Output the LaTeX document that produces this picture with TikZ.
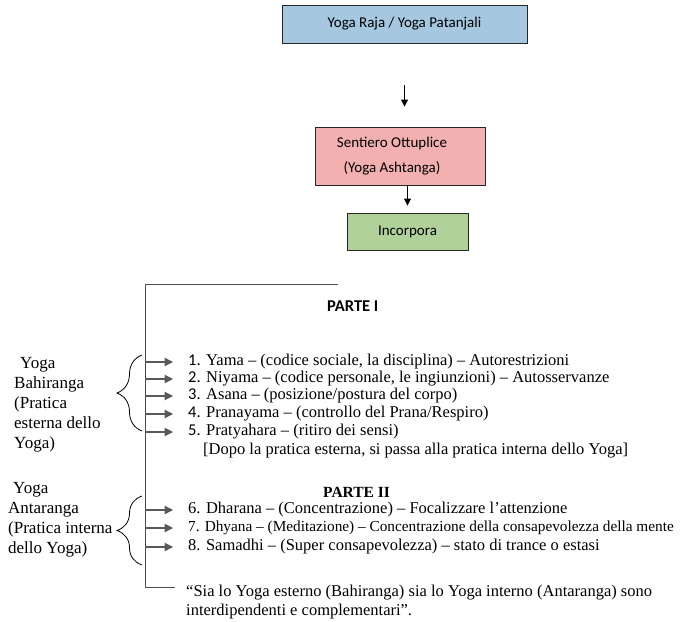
\documentclass[tikz,border=0pt]{standalone}
\usepackage{fontspec}
\setmainfont{Liberation Serif}
\newfontfamily\carlito{Carlito}
\usetikzlibrary{arrows.meta,decorations.pathreplacing}

\definecolor{rajablue}{RGB}{165,200,224}
\definecolor{sentpink}{RGB}{242,177,176}
\definecolor{incgreen}{RGB}{176,209,154}

\tikzset{
	flowbox/.style={draw=black!85, line width=0.9pt, inner sep=0pt, align=center,
		font=\carlito\fontsize{15}{25}\selectfont},
	flowarrow/.style={-{Triangle[length=7pt,width=7pt]}, line width=0.9pt},
	listarrow/.style={-{Triangle[length=8.5pt,width=8.5pt]}, line width=1.1pt, draw=black!65, fill=black},
	itemtext/.style={anchor=west, inner sep=0pt, font=\fontsize{16.5}{19}\selectfont},
	sidetext/.style={anchor=west, align=left, inner sep=0pt, font=\fontsize{17}{20}\selectfont},
	sidebrace/.style={decorate, decoration={brace, amplitude=25pt, aspect=0.5}, line width=0.8pt}
}

\begin{document}
\begin{tikzpicture}[x=1pt, y=-1pt]
\useasboundingbox (0,0) rectangle (700,621);

% top of the diagram
\node[flowbox, fill=rajablue, minimum width=245pt, minimum height=38pt] (raja) at (404.5,24) {Yoga Raja / Yoga Patanjali};
\node[flowbox, fill=sentpink, minimum width=170pt, minimum height=58pt] (sentiero) at (400,156)
	{\hspace*{-16pt}Sentiero Ottuplice\\\hspace*{-16pt}(Yoga Ashtanga)};
\node[flowbox, fill=incgreen, minimum width=121pt, minimum height=37pt] (incorpora) at (407.5,231.5) {Incorpora};

\draw[flowarrow, shorten <=42pt, shorten >=20pt] (raja.south) -- (raja.south |- sentiero.north);
\draw[flowarrow, shorten >=7pt] (incorpora.north |- sentiero.south) -- (incorpora.north);

% the eight limbs
\coordinate (spinetop) at (145,284);
\coordinate (spineend) at (145,587);
\coordinate (spinefoot) at (175,587);

\node[anchor=west, inner sep=0pt, font=\carlito\bfseries\fontsize{16.5}{19}\selectfont] (parte1) at (327,306) {PARTE I};
\node[itemtext] (i1) at (188,362) {{\carlito 1.} Yama -- (codice sociale, la disciplina) -- Autorestrizioni};
\node[itemtext] (i2) at (188,379) {{\carlito 2.} Niyama -- (codice personale, le ingiunzioni) -- Autosservanze};
\node[itemtext] (i3) at (188,396) {{\carlito 3.} Asana -- (posizione/postura del corpo)};
\node[itemtext] (i4) at (188,414) {{\carlito 4.} Pranayama -- (controllo del Prana/Respiro)};
\node[itemtext] (i5) at (188,432) {{\carlito 5.} Pratyahara -- (ritiro dei sensi)};
\node[itemtext] (dopo) at (203,451) {[Dopo la pratica esterna, si passa alla pratica interna dello Yoga]};

\node[anchor=west, inner sep=0pt, font=\bfseries\fontsize{15.5}{17}\selectfont] (parte2) at (323,492) {PARTE II};
\node[itemtext] (i6) at (188,510) {6. Dharana -- (Concentrazione) -- Focalizzare l’attenzione};
\node[itemtext, font=\fontsize{15.3}{18}\selectfont] (i7) at (188,528) {7. Dhyana -- (Meditazione) -- Concentrazione della consapevolezza della mente};
\node[itemtext] (i8) at (188,547) {8. Samadhi -- (Super consapevolezza) -- stato di trance o estasi};

% multi-line node: base is the last line
\node[itemtext, anchor=base west, align=left, font=\fontsize{16.5}{19}\selectfont] (quote) at (186,615)
	{“Sia lo Yoga esterno (Bahiranga) sia lo Yoga interno (Antaranga) sono\\interdipendenti e complementari”.};

\draw[black!70, line width=1pt] (338,284) -- (spinetop) -- (spineend) -- (spinefoot);

\foreach \k in {1,...,8}
{
	\draw[listarrow, shorten >=15pt] (spinetop |- i\k.west) -- (i\k.west);
}

% the two groups
\node[sidetext] (bahiranga) at (14,405) {\hspace*{6pt}Yoga\\Bahiranga\\(Pratica\\esterna dello\\Yoga)};
\node[sidetext] (antaranga) at (8,520) {\hspace*{5pt}Yoga\\Antaranga\\(Pratica interna\\dello Yoga)};

\draw[sidebrace] (142,431) -- (142,355);
\draw[sidebrace] (142,565) -- (142,496);
\end{tikzpicture}
\end{document}
